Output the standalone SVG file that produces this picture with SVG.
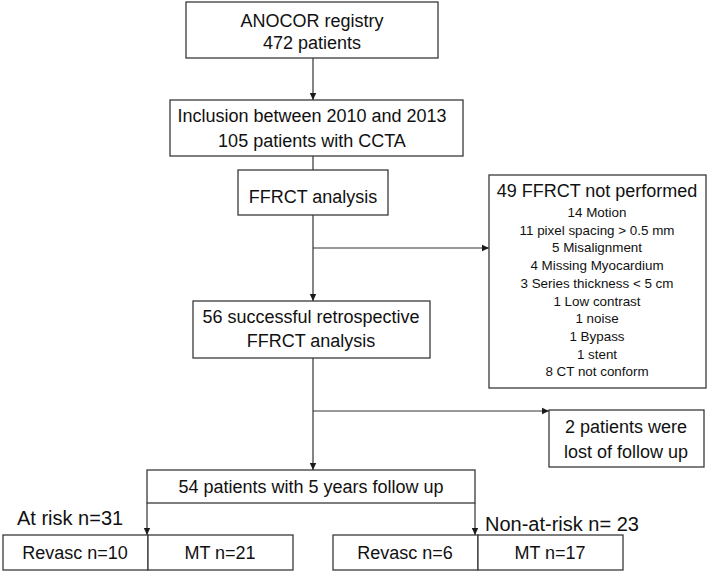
<svg xmlns="http://www.w3.org/2000/svg" width="709" height="573" viewBox="0 0 709 573">
<defs>
<marker id="ah" markerWidth="8" markerHeight="8" refX="7" refY="4" orient="auto" markerUnits="userSpaceOnUse">
<path d="M0,0.8 L7,4 L0,7.2 Z" fill="#1a1a1a"/>
</marker>
<style>
.box{fill:#fff;stroke:#3a3a3a;stroke-width:1.3}
.t{font-family:"Liberation Sans",Arial,sans-serif;font-size:18px;fill:#111;text-anchor:middle}
.s{font-family:"Liberation Sans",Arial,sans-serif;font-size:13.4px;fill:#111;text-anchor:middle}
.l{font-family:"Liberation Sans",Arial,sans-serif;font-size:20px;fill:#111}
.c{stroke:#333;stroke-width:1.2;fill:none}
</style>
</defs>
<rect width="709" height="573" fill="#fff"/>
<g id="connectors">
<line class="c" x1="313" y1="58" x2="313" y2="100" marker-end="url(#ah)"/>
<line class="c" x1="313" y1="156" x2="313" y2="170"/>
<line class="c" x1="313" y1="215" x2="313" y2="301" marker-end="url(#ah)"/>
<line class="c" x1="313" y1="248" x2="489" y2="248" marker-end="url(#ah)"/>
<line class="c" x1="313" y1="358" x2="313" y2="470" marker-end="url(#ah)"/>
<line class="c" x1="313" y1="411" x2="549" y2="411" marker-end="url(#ah)"/>
<line class="c" x1="147" y1="503" x2="147" y2="535" marker-end="url(#ah)"/>
<line class="c" x1="475" y1="503" x2="475" y2="535" marker-end="url(#ah)"/>
</g>
<g id="registry">
<rect class="box" x="186" y="2" width="252" height="56"/>
<text class="t" x="312" y="27">ANOCOR registry</text>
<text class="t" x="312" y="49">472 patients</text>
</g>
<g id="inclusion">
<rect class="box" x="170" y="100" width="293" height="56"/>
<text class="t" x="312" y="122">Inclusion between 2010 and 2013</text>
<text class="t" x="312" y="147">105 patients with CCTA</text>
</g>
<g id="ffrct">
<rect class="box" x="238" y="170" width="150" height="45"/>
<text class="t" x="313" y="203">FFRCT analysis</text>
</g>
<g id="notperformed">
<rect class="box" x="489" y="175" width="217" height="213"/>
<text class="t" x="597" y="197">49 FFRCT not performed</text>
<text class="s" x="597" y="217">14 Motion</text>
<text class="s" x="597" y="234.7">11 pixel spacing &gt; 0.5 mm</text>
<text class="s" x="597" y="252.4">5 Misalignment</text>
<text class="s" x="597" y="270.1">4 Missing Myocardium</text>
<text class="s" x="597" y="287.8">3 Series thickness &lt; 5 cm</text>
<text class="s" x="597" y="305.5">1 Low contrast</text>
<text class="s" x="597" y="323.2">1 noise</text>
<text class="s" x="597" y="340.9">1 Bypass</text>
<text class="s" x="597" y="358.6">1 stent</text>
<text class="s" x="597" y="376.3">8 CT not conform</text>
</g>
<g id="successful">
<rect class="box" x="193" y="301" width="237" height="57"/>
<text class="t" x="311" y="323">56 successful retrospective</text>
<text class="t" x="311" y="347">FFRCT analysis</text>
</g>
<g id="lost">
<rect class="box" x="549" y="410" width="155" height="57"/>
<text class="t" x="626" y="433">2 patients were</text>
<text class="t" x="626" y="458">lost of follow up</text>
</g>
<g id="followup">
<rect class="box" x="147" y="470" width="328" height="33"/>
<text class="t" x="311" y="493">54 patients with 5 years follow up</text>
</g>
<g id="atrisk">
<text class="l" x="17" y="525">At risk n=31</text>
<rect class="box" x="3" y="535" width="145" height="35"/>
<rect class="box" x="148" y="535" width="145" height="35"/>
<text class="t" x="75" y="559">Revasc n=10</text>
<text class="t" x="220" y="559">MT n=21</text>
</g>
<g id="nonatrisk">
<text class="l" x="485" y="531">Non-at-risk n= 23</text>
<rect class="box" x="333" y="535" width="145" height="35"/>
<rect class="box" x="478" y="535" width="145" height="35"/>
<text class="t" x="405" y="559">Revasc n=6</text>
<text class="t" x="550" y="559">MT n=17</text>
</g>
</svg>
